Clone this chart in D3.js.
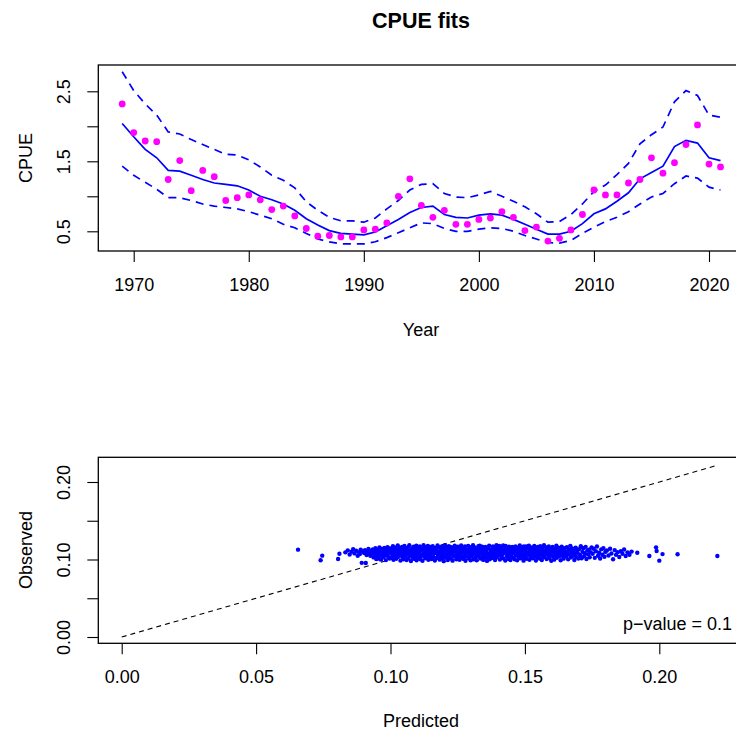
<!DOCTYPE html>
<html>
<head>
<meta charset="utf-8">
<title>CPUE fits</title>
<script src="https://d3js.org/d3.v7.min.js"></script>
<style>
    body { margin: 0; background: #fff; }
    text { font-family: "Liberation Sans", Arial, Helvetica, sans-serif; }
</style>
</head>
<body>
<div id="svgContainer"></div>
<script>
// ---- top panel data (CPUE by year)
var years = [1969,1970,1971,1972,1973,1974,1975,1976,1977,1978,
             1979,1980,1981,1982,1983,1984,1985,1986,1987,1988,
             1989,1990,1991,1992,1993,1994,1995,1996,1997,1998,
             1999,2000,2001,2002,2003,2004,2005,2006,2007,2008,
             2009,2010,2011,2012,2013,2014,2015,2016,2017,2018,
             2019,2020,2021];
var cpueObs = [2.32,1.91,1.79,1.78,1.24,1.51,1.08,1.37,1.28,0.94,
               0.98,1.02,0.95,0.81,0.86,0.72,0.54,0.43,0.44,0.42,
               0.42,0.52,0.53,0.62,1.00,1.25,0.87,0.70,0.80,0.60,
               0.60,0.67,0.69,0.78,0.70,0.51,0.56,0.36,0.40,0.52,
               0.74,1.09,1.02,1.02,1.19,1.24,1.55,1.33,1.48,1.74,
               2.02,1.46,1.42];
var cpueFit = [2.04,1.85,1.67,1.55,1.37,1.36,1.30,1.24,1.19,1.17,
               1.15,1.09,1.00,0.95,0.89,0.80,0.68,0.59,0.51,0.47,
               0.46,0.45,0.49,0.58,0.67,0.77,0.84,0.86,0.74,0.70,
               0.69,0.73,0.75,0.73,0.67,0.60,0.53,0.46,0.46,0.50,
               0.61,0.75,0.82,0.93,1.05,1.25,1.34,1.43,1.71,1.80,
               1.76,1.55,1.51];
var cpueUpper = [2.78,2.51,2.32,2.16,1.92,1.89,1.81,1.74,1.67,1.60,
                 1.59,1.52,1.42,1.30,1.23,1.12,0.92,0.80,0.70,0.65,
                 0.65,0.63,0.69,0.82,0.94,1.09,1.17,1.18,1.04,0.99,
                 0.98,1.02,1.07,1.00,0.93,0.85,0.75,0.63,0.64,0.74,
                 0.89,1.07,1.16,1.31,1.47,1.75,1.88,1.99,2.35,2.51,
                 2.44,2.16,2.13];
var cpueLower = [1.43,1.30,1.20,1.10,0.98,0.98,0.94,0.89,0.86,0.84,
                 0.82,0.78,0.73,0.68,0.60,0.55,0.47,0.39,0.35,0.32,
                 0.32,0.32,0.35,0.41,0.48,0.55,0.62,0.61,0.54,0.50,
                 0.50,0.53,0.55,0.54,0.50,0.44,0.39,0.34,0.33,0.37,
                 0.47,0.56,0.64,0.70,0.78,0.89,0.99,1.04,1.18,1.29,
                 1.26,1.13,1.09];
var yearTicks = [1970,1980,1990,2000,2010,2020];
var cpueTicks = [0.5,1.0,1.5,2.0,2.5];
var cpueTickLabels = ["0.5","","1.5","","2.5"];

// ---- bottom panel data: [predicted, observed]
var residPairs = [
  [.0656,.1127],[.0740,.0990],[.0746,.1050],[.0805,.1006],[.0810,.1075],
  [.0832,.1092],[.0841,.1118],[.0848,.1065],[.0855,.1101],[.0861,.1134],[.0866,.1079],[.0872,.1112],[.0878,.1047],[.0883,.1093],[.0889,.1125],[.0886,.1070],[.0894,.1105],[.0893,.0957],[.0908,.0955],
  [.0902,.1083],[.0905,.1121],[.0911,.1058],[.0914,.1102],[.0918,.1137],[.0921,.1075],[.0925,.1049],[.0928,.1112],[.0931,.1090],[.0934,.1130],[.0937,.1027],[.0939,.1066],[.0942,.1101],[.0944,.1145],[.0946,.1082],[.0948,.1040],[.0949,.1118],[.0947,.1005],
  [.0951,.1072],[.0953,.1128],[.0955,.1011],[.0957,.1093],[.0959,.1156],[.0961,.1047],[.0963,.1109],[.0965,.0998],[.0967,.1136],[.0969,.1064],[.0971,.1117],[.0973,.1029],[.0975,.1085],[.0977,.1149],[.0979,.1052],[.0981,.1101],[.0983,.0992],[.0985,.1127],[.0987,.1076],[.0989,.1160],[.0991,.1038],[.0994,.1097],[.0996,.1013],[.0998,.1142],
  [.1001,.1083],[.1003,.1024],[.1005,.1131],[.1007,.1061],[.1009,.1172],[.1011,.0997],[.1013,.1108],[.1015,.1045],[.1017,.1153],[.1019,.1079],[.1021,.1010],[.1023,.1124],[.1025,.1066],[.1027,.1181],[.1029,.1035],[.1031,.1098],[.1033,.1147],[.1035,.1054],[.1037,.0986],[.1039,.1116],[.1041,.1072],[.1043,.1163],[.1045,.1028],[.1046,.1091],[.1047,.1139],[.1048,.1003],[.1049,.1059],[.1050,.1112],
  [.1052,.1175],[.1054,.1041],[.1056,.1088],[.1058,.1129],[.1060,.0994],[.1062,.1069],[.1064,.1152],[.1066,.1017],[.1068,.1104],[.1070,.1183],[.1072,.1050],[.1074,.1121],[.1076,.0981],[.1078,.1086],[.1080,.1143],[.1082,.1033],[.1084,.1097],[.1086,.1166],[.1088,.1008],[.1090,.1074],[.1092,.1135],[.1094,.1046],[.1095,.1112],[.1096,.1178],[.1097,.0990],[.1098,.1063],[.1099,.1127],[.1093,.1021],[.1087,.1158],[.1079,.1060],
  [.1101,.1094],[.1103,.1148],[.1105,.1026],[.1107,.1081],[.1109,.1169],[.1111,.1002],[.1113,.1115],[.1115,.1057],[.1117,.1137],[.1119,.0984],[.1121,.1072],[.1123,.1184],[.1125,.1039],[.1127,.1103],[.1129,.1155],[.1131,.1015],[.1133,.1088],[.1135,.1128],[.1137,.1051],[.1139,.1174],[.1141,.0996],[.1143,.1109],[.1145,.1067],[.1146,.1142],[.1147,.1030],[.1148,.1096],[.1149,.1161],[.1136,.1077],[.1124,.1125],[.1112,.1044],
  [.1151,.1118],[.1153,.1005],[.1155,.1063],[.1157,.1171],[.1159,.1036],[.1161,.1099],[.1163,.1146],[.1165,.0988],[.1167,.1082],[.1169,.1132],[.1171,.1019],[.1173,.1110],[.1175,.1180],[.1177,.1053],[.1179,.1091],[.1181,.1158],[.1183,.0998],[.1185,.1074],[.1187,.1124],[.1189,.1042],[.1191,.1167],[.1193,.1087],[.1194,.1011],[.1195,.1139],[.1196,.1060],[.1197,.1103],[.1198,.0979],[.1199,.1151],[.1178,.1027],[.1162,.1122],
  [.1201,.1070],[.1203,.1186],[.1205,.1031],[.1207,.1113],[.1209,.1058],[.1211,.1149],[.1213,.0993],[.1215,.1096],[.1217,.1173],[.1219,.1045],[.1221,.1126],[.1223,.1013],[.1225,.1084],[.1227,.1160],[.1229,.1066],[.1231,.0985],[.1233,.1119],[.1235,.1037],[.1237,.1101],[.1239,.1177],[.1241,.1052],[.1243,.1134],[.1245,.1003],[.1246,.1090],[.1247,.1155],[.1248,.1025],[.1249,.1078],[.1236,.1143],[.1222,.1108],[.1208,.1022],
  [.1251,.1164],[.1253,.1048],[.1255,.1105],[.1257,.0996],[.1259,.1137],[.1261,.1071],[.1263,.1182],[.1265,.1029],[.1267,.1093],[.1269,.1150],[.1271,.1008],[.1273,.1117],[.1275,.1062],[.1277,.1169],[.1279,.0983],[.1281,.1086],[.1283,.1128],[.1285,.1040],[.1287,.1099],[.1289,.1176],[.1291,.1016],[.1293,.1075],[.1295,.1141],[.1296,.1055],[.1297,.1111],[.1298,.0991],[.1299,.1158],[.1276,.1034],[.1264,.1125],[.1252,.1080],
  [.1301,.1043],[.1303,.1132],[.1305,.1069],[.1307,.1185],[.1309,.1001],[.1311,.1098],[.1313,.1154],[.1315,.1024],[.1317,.1083],[.1319,.1127],[.1321,.0989],[.1323,.1112],[.1325,.1057],[.1327,.1172],[.1329,.1035],[.1331,.1091],[.1333,.1146],[.1335,.1012],[.1337,.1076],[.1339,.1119],[.1341,.1166],[.1343,.1049],[.1345,.0995],[.1346,.1103],[.1347,.1139],[.1348,.1061],[.1349,.1021],[.1332,.1178],[.1318,.1066],[.1306,.1107],
  [.1351,.1088],[.1353,.1161],[.1355,.1030],[.1357,.1116],[.1359,.0982],[.1361,.1073],[.1363,.1144],[.1365,.1046],[.1367,.1179],[.1369,.1004],[.1371,.1095],[.1373,.1131],[.1375,.1059],[.1377,.1018],[.1379,.1108],[.1381,.1168],[.1383,.1041],[.1385,.1082],[.1387,.1150],[.1389,.0993],[.1391,.1122],[.1393,.1065],[.1394,.1183],[.1395,.1027],[.1396,.1100],[.1397,.1137],[.1398,.1052],[.1399,.1171],[.1376,.1090],[.1362,.1011],
  [.1401,.1123],[.1403,.1056],[.1405,.1174],[.1407,.0999],[.1409,.1092],[.1411,.1147],[.1413,.1033],[.1415,.1110],[.1417,.1068],[.1419,.1180],[.1421,.1014],[.1423,.1085],[.1425,.1135],[.1427,.0987],[.1429,.1101],[.1431,.1159],[.1433,.1044],[.1435,.1077],[.1437,.1126],[.1439,.1022],[.1441,.1165],[.1443,.1062],[.1445,.1114],[.1446,.0994],[.1447,.1089],[.1448,.1142],[.1449,.1037],[.1428,.1176],[.1414,.1071],[.1438,.1008],
  [.1451,.1096],[.1453,.1162],[.1455,.1026],[.1457,.1081],[.1459,.1138],[.1461,.1003],[.1463,.1107],[.1465,.1170],[.1467,.1050],[.1469,.1119],[.1471,.0990],[.1473,.1074],[.1475,.1152],[.1477,.1036],[.1479,.1093],[.1481,.1181],[.1483,.1015],[.1485,.1128],[.1487,.1063],[.1489,.1145],[.1491,.1042],[.1493,.1102],[.1495,.0985],[.1496,.1167],[.1497,.1079],[.1498,.1020],[.1499,.1133],[.1474,.1058],
  [.1501,.1111],[.1503,.1047],[.1505,.1169],[.1507,.1009],[.1509,.1087],[.1511,.1140],[.1513,.1060],[.1515,.1178],[.1517,.0996],[.1519,.1121],[.1521,.1033],[.1523,.1098],[.1525,.1155],[.1527,.1068],[.1529,.1017],[.1531,.1130],[.1533,.1082],[.1535,.1175],[.1537,.1040],[.1539,.1104],[.1541,.0988],[.1543,.1147],[.1545,.1071],[.1546,.1024],[.1547,.1118],[.1548,.1162],[.1549,.1055],[.1526,.1093],
  [.1551,.1084],[.1553,.1136],[.1555,.1012],[.1557,.1172],[.1559,.1062],[.1561,.1107],[.1563,.0993],[.1565,.1149],[.1567,.1045],[.1569,.1094],[.1571,.1183],[.1573,.1028],[.1575,.1116],[.1577,.1070],[.1579,.1157],[.1581,.1006],[.1583,.1089],[.1585,.1131],[.1587,.1051],[.1589,.1168],[.1591,.1019],[.1593,.1100],[.1595,.1143],[.1596,.1066],[.1598,.0984],[.1599,.1125],
  [.1601,.1077],[.1603,.1161],[.1605,.1035],[.1607,.1113],[.1609,.0998],[.1611,.1092],[.1613,.1140],[.1615,.1056],[.1617,.1179],[.1619,.1021],[.1621,.1105],[.1623,.1069],[.1625,.1152],[.1627,.1041],[.1629,.1097],[.1631,.1128],[.1633,.0990],[.1635,.1083],[.1637,.1166],[.1639,.1049],[.1642,.1120],[.1644,.1011],[.1646,.1074],[.1648,.1146],
  [.1651,.1101],[.1654,.1038],[.1656,.1159],[.1659,.1080],[.1661,.1002],[.1664,.1124],[.1666,.1063],[.1669,.1176],[.1671,.1027],[.1674,.1095],[.1676,.1142],[.1679,.1049],[.1681,.1110],[.1684,.0994],[.1686,.1071],[.1689,.1151],[.1691,.1033],[.1694,.1118],[.1696,.1087],[.1699,.1013],
  [.1702,.1134],[.1705,.1058],[.1708,.1172],[.1711,.1016],[.1714,.1099],[.1717,.1145],[.1720,.1041],[.1723,.1082],[.1726,.1163],[.1729,.1007],[.1732,.1115],[.1735,.1066],[.1738,.1128],[.1741,.1030],[.1744,.1093],[.1748,.1155],
  [.1752,.1074],[.1756,.1139],[.1760,.1021],[.1764,.1106],[.1768,.1167],[.1772,.1049],[.1776,.1088],[.1780,.1012],[.1784,.1131],[.1788,.1062],[.1792,.1147],[.1796,.1035],[.1799,.1098],
  [.1805,.1116],[.1811,.1052],[.1817,.1138],[.1822,.1078],[.1828,.1004],[.1834,.1121],[.1839,.1060],[.1845,.1095],[.1851,.1033],[.1857,.1108],
  [.1863,.1074],[.1869,.1130],[.1875,.1045],[.1882,.1092],[.1889,.1061],[.1897,.1102],[.1918,.1087],
  [.1963,.1045],[.1988,.1157],[.1990,.1110],[.2000,.0985],[.2012,.1070],[.2068,.1067],[.2216,.1045]
];
var predTicks = [0.00,0.05,0.10,0.15,0.20];
var obsTicks = [0.00,0.05,0.10,0.15,0.20];
var obsTickLabels = ["0.00","","0.10","","0.20"];
var pValueText = "p\u2212value = 0.1";

var W = 736, H = 735;
var svg = d3.select("#svgContainer")
    .append("svg")
    .attr("width", W)
    .attr("height", H);

var boxLeft = 98.3, boxRight = 745;
var p1 = { top: 65, bottom: 251 };
var p2 = { top: 457.3, bottom: 643.3 };

// clip regions (R clips to plot region)
var defs = svg.append("defs");
defs.append("clipPath").attr("id", "clip1").append("rect")
    .attr("x", boxLeft).attr("y", p1.top).attr("width", boxRight - boxLeft).attr("height", p1.bottom - p1.top);
defs.append("clipPath").attr("id", "clip2").append("rect")
    .attr("x", boxLeft).attr("y", p2.top).attr("width", boxRight - boxLeft).attr("height", p2.bottom - p2.top);

// title
svg.append("text")
    .attr("x", 421).attr("y", 27.5)
    .attr("text-anchor", "middle")
    .style("font-size", "21.5px")
    .style("font-weight", "bold")
    .text("CPUE fits");

// ---------- top panel
var x1 = d3.scaleLinear().domain([1970, 2020]).range([133.7, 709]);
var y1 = d3.scaleLinear().domain([0.5, 2.5]).range([231.3, 91.3]);

var fitData = years.map(function(yr, i) {
    return { year: yr, obs: cpueObs[i], fit: cpueFit[i], up: cpueUpper[i], lo: cpueLower[i] };
});

var g1 = svg.append("g").attr("clip-path", "url(#clip1)");

function lineFor(key) {
    return d3.line().x(d => x1(d.year)).y(d => y1(d[key]));
}
g1.append("path").datum(fitData)
    .attr("d", lineFor("fit"))
    .attr("fill", "none").attr("stroke", "#0000ff").attr("stroke-width", 1.7);
["up", "lo"].forEach(function(k) {
    g1.append("path").datum(fitData)
        .attr("d", lineFor(k))
        .attr("fill", "none").attr("stroke", "#0000ff").attr("stroke-width", 1.7)
        .attr("stroke-dasharray", "8,6");
});
g1.selectAll("circle")
    .data(fitData)
    .enter()
    .append("circle")
    .attr("cx", d => x1(d.year))
    .attr("cy", d => y1(d.obs))
    .attr("r", 3.4)
    .attr("fill", "#ff00ff");

svg.append("rect")
    .attr("x", boxLeft).attr("y", p1.top)
    .attr("width", boxRight - boxLeft).attr("height", p1.bottom - p1.top)
    .attr("fill", "none").attr("stroke", "#000").attr("stroke-width", 1.3);

var ax1 = svg.append("g")
    .attr("transform", "translate(0," + p1.bottom + ")")
    .call(d3.axisBottom(x1).tickValues(yearTicks).tickSize(11).tickFormat(d3.format("d")));
var ay1 = svg.append("g")
    .attr("transform", "translate(" + boxLeft + ",0)")
    .call(d3.axisLeft(y1).tickValues(cpueTicks).tickSize(11).tickFormat((d, i) => cpueTickLabels[i]));

// ---------- bottom panel
var x2 = d3.scaleLinear().domain([0, 0.2]).range([121.7, 659.3]);
var y2 = d3.scaleLinear().domain([0, 0.2]).range([637, 482]);

var g2 = svg.append("g").attr("clip-path", "url(#clip2)");
var maxPred = d3.max(residPairs, d => d[0]);
g2.append("line")
    .attr("x1", x2(0)).attr("y1", y2(0))
    .attr("x2", x2(maxPred)).attr("y2", y2(maxPred))
    .attr("stroke", "#000").attr("stroke-width", 1.1)
    .attr("stroke-dasharray", "5,4");
g2.selectAll("circle")
    .data(residPairs)
    .enter()
    .append("circle")
    .attr("cx", d => x2(d[0]))
    .attr("cy", d => y2(d[1]))
    .attr("r", 2.2)
    .attr("fill", "#0000ff");

svg.append("rect")
    .attr("x", boxLeft).attr("y", p2.top)
    .attr("width", boxRight - boxLeft).attr("height", p2.bottom - p2.top)
    .attr("fill", "none").attr("stroke", "#000").attr("stroke-width", 1.3);

var ax2 = svg.append("g")
    .attr("transform", "translate(0," + p2.bottom + ")")
    .call(d3.axisBottom(x2).tickValues(predTicks).tickSize(11).tickFormat(d3.format(".2f")));
var ay2 = svg.append("g")
    .attr("transform", "translate(" + boxLeft + ",0)")
    .call(d3.axisLeft(y2).tickValues(obsTicks).tickSize(11).tickFormat((d, i) => obsTickLabels[i]));

svg.append("text")
    .attr("x", 623).attr("y", 630)
    .style("font-size", "18px")
    .text(pValueText);

// ---------- axis styling (R look)
[ax1, ay1, ax2, ay2].forEach(function(a) {
    a.select(".domain").remove();
    a.selectAll(".tick line").attr("stroke", "#000").attr("stroke-width", 1.1);
    a.selectAll(".tick text")
        .attr("fill", "#000")
        .style("font-size", "18px")
        .style("font-family", "'Liberation Sans', Arial, sans-serif");
});
[ax1, ax2].forEach(function(a) {
    a.selectAll(".tick text").attr("y", 39.5).attr("dy", 0);
});
[ay1, ay2].forEach(function(a) {
    a.selectAll(".tick text")
        .attr("transform", "rotate(-90)")
        .attr("x", 0).attr("y", -28.3).attr("dy", 0)
        .attr("text-anchor", "middle");
});

// axis titles
svg.append("text").attr("x", 421).attr("y", 336)
    .attr("text-anchor", "middle").style("font-size", "18px").text("Year");
svg.append("text").attr("transform", "translate(32,158) rotate(-90)")
    .attr("text-anchor", "middle").style("font-size", "18px").text("CPUE");
svg.append("text").attr("x", 421).attr("y", 727)
    .attr("text-anchor", "middle").style("font-size", "18px").text("Predicted");
svg.append("text").attr("transform", "translate(32,550) rotate(-90)")
    .attr("text-anchor", "middle").style("font-size", "18px").text("Observed");
</script>
</body>
</html>
